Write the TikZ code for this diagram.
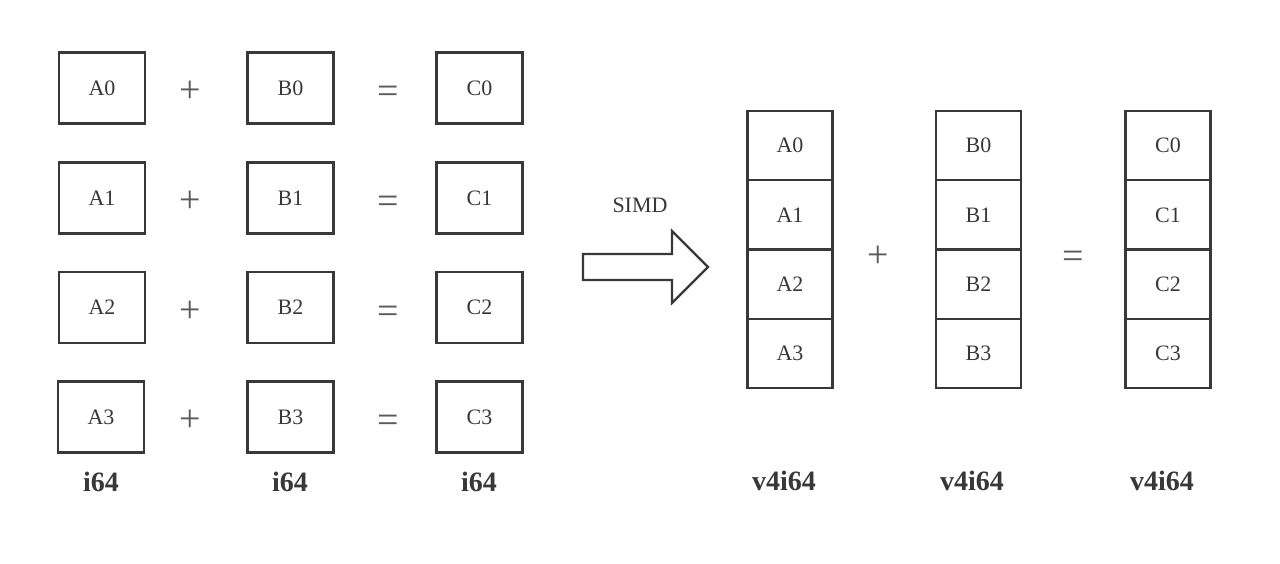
\documentclass[tikz,border=0pt]{standalone}
\usepackage{fontspec}
\setmainfont{Liberation Serif}
\definecolor{inkgray}{HTML}{383838}
\definecolor{signgray}{HTML}{5A5A5A}
\tikzset{
    cellbox/.style={draw=inkgray, text=inkgray, line width=2.2pt, minimum width=86pt, minimum height=71pt, inner sep=0pt, font=\fontsize{22}{26}\selectfont},
    lanebox/.style={cellbox, minimum width=85pt, minimum height=69.25pt},
    opsign/.style={text=signgray, font=\fontsize{38}{40}\selectfont, inner sep=0pt, yshift=-4pt},
    eqsign/.style={opsign, yshift=-3pt},
    typelabel/.style={text=inkgray, font=\fontsize{28}{32}\selectfont\bfseries, inner sep=0pt}
}
\begin{document}
\begin{tikzpicture}[x=1pt, y=-1pt]
    \useasboundingbox (0, 0) rectangle (1280, 564);

    % scalar: row step = 110
    \node[cellbox] (a0) at (102, 88) {A0};
    \node[cellbox] (b0) at (290.5, 88) {B0};
    \node[cellbox] (c0) at (479.5, 88) {C0};
    \node[opsign] (p0) at (190, 88) {+};
    \node[eqsign] (e0) at (388, 88) {=};

    \node[cellbox] (a1) at (102, 198) {A1};
    \node[cellbox] (b1) at (290.5, 198) {B1};
    \node[cellbox] (c1) at (479.5, 198) {C1};
    \node[opsign] (p1) at (190, 198) {+};
    \node[eqsign] (e1) at (388, 198) {=};

    \node[cellbox] (a2) at (102, 307.5) {A2};
    \node[cellbox] (b2) at (290.5, 307.5) {B2};
    \node[cellbox] (c2) at (479.5, 307.5) {C2};
    \node[opsign] (p2) at (190, 307.5) {+};
    \node[eqsign] (e2) at (388, 307.5) {=};

    \node[cellbox] (a3) at (101, 417) {A3};
    \node[cellbox] (b3) at (290.5, 417) {B3};
    \node[cellbox] (c3) at (479.5, 417) {C3};
    \node[opsign] (p3) at (190, 417) {+};
    \node[eqsign] (e3) at (388, 417) {=};

    \node[typelabel] (ta) at (101, 482) {i64};
    \node[typelabel] (tb) at (290, 482) {i64};
    \node[typelabel] (tc) at (479, 482) {i64};

    % SIMD arrow: shaft 583 -- 672, head to 708
    \draw[draw=inkgray, line width=2.2pt, line join=miter]
        (583, 254) -- (672, 254) -- (672, 231) -- (708, 267)
        -- (672, 303) -- (672, 280) -- (583, 280) -- cycle;
    \node[text=inkgray, font=\fontsize{22}{26}\selectfont, inner sep=0pt] (simd) at (640, 205) {SIMD};

    % vector: top 111, bottom 388, lane = 69.25
    \node[lanebox] (va0) at (790, 145.6) {A0};
    \node[lanebox] (va1) at (790, 214.9) {A1};
    \node[lanebox] (va2) at (790, 284.1) {A2};
    \node[lanebox] (va3) at (790, 353.4) {A3};

    \node[lanebox] (vb0) at (978.5, 145.6) {B0};
    \node[lanebox] (vb1) at (978.5, 214.9) {B1};
    \node[lanebox] (vb2) at (978.5, 284.1) {B2};
    \node[lanebox] (vb3) at (978.5, 353.4) {B3};

    \node[lanebox] (vc0) at (1168, 145.6) {C0};
    \node[lanebox] (vc1) at (1168, 214.9) {C1};
    \node[lanebox] (vc2) at (1168, 284.1) {C2};
    \node[lanebox] (vc3) at (1168, 353.4) {C3};

    \node[opsign] (vp) at (878, 253) {+};
    \node[eqsign] (ve) at (1073, 253) {=};

    \node[typelabel] (tva) at (784, 481) {v4i64};
    \node[typelabel] (tvb) at (972, 481) {v4i64};
    \node[typelabel] (tvc) at (1162, 481) {v4i64};
\end{tikzpicture}
\end{document}
